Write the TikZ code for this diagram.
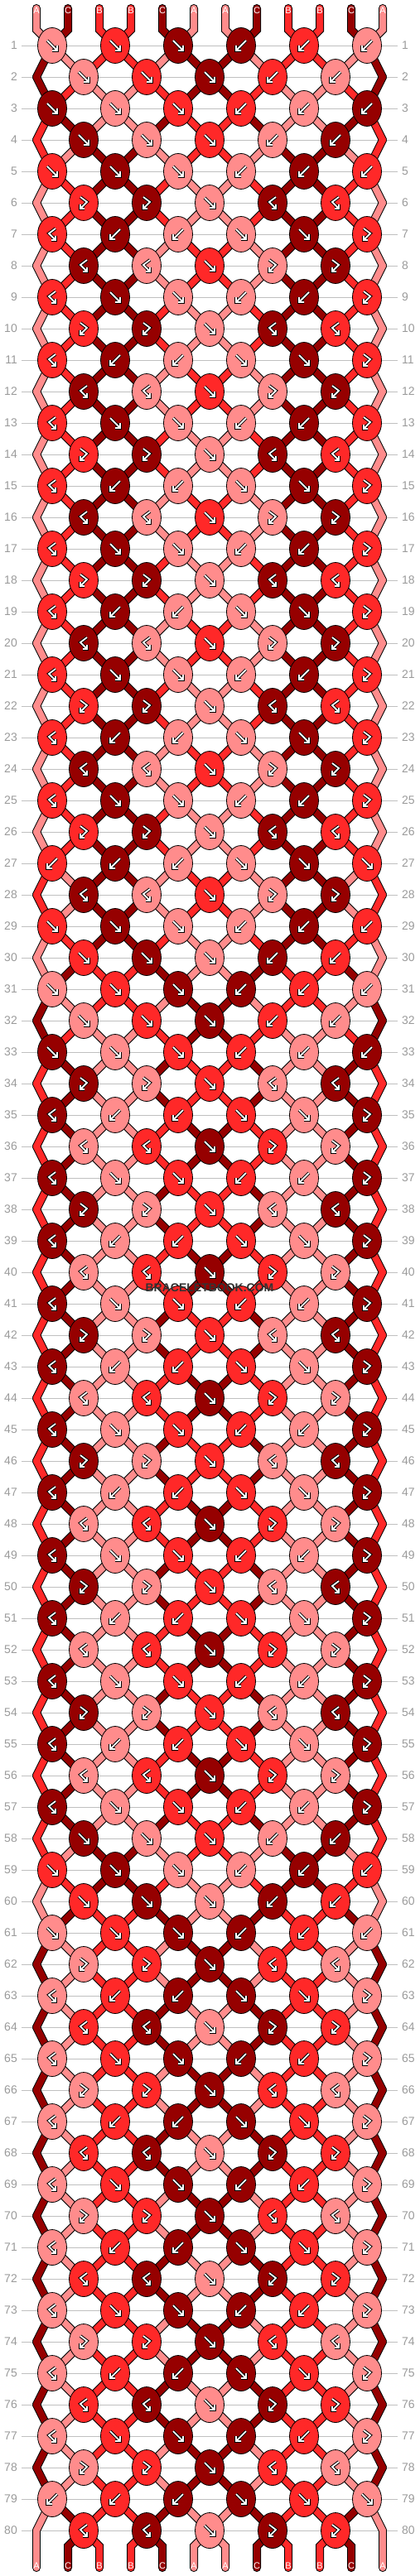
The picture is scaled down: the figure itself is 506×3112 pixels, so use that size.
\documentclass[tikz,border=0pt]{standalone}
\usepackage{fontspec}
\setsansfont{Liberation Sans}
\usetikzlibrary{shapes.geometric}

\definecolor{colA}{HTML}{FF8C8C}
\definecolor{colB}{HTML}{FF2828}
\definecolor{colC}{HTML}{960000}
\definecolor{rulegray}{HTML}{C0C0C0}
\definecolor{numgray}{HTML}{9A9A9A}
\definecolor{markgray}{HTML}{333333}

\tikzstyle{bknot} = [ellipse, draw=black, line width=0.8pt, minimum width=35pt, minimum height=43pt, inner sep=0pt]
\tikzstyle{rim} = [black, line width=10pt, line cap=round]
\tikzstyle{yarn} = [line width=8pt, line cap=round]
\tikzstyle{glyph} = [white, line width=1.8pt, preaction={draw=black, line width=3.8pt}]
\tikzstyle{rowline} = [rulegray, line width=0.9pt]
\tikzstyle{rownum} = [numgray, font=\sffamily\fontsize{14}{14}\selectfont, inner sep=0pt]
\tikzstyle{threadtag} = [white, font=\sffamily\fontsize{11}{11}\selectfont, inner sep=0pt]

\tikzset{
  pics/fwd/.style={code={\draw[glyph] (-6,-6) -- (6,6) (6,0) -- (6,6) -- (0,6);}},
  pics/bwd/.style={code={\draw[glyph] (6,-6) -- (-6,6) (-6,0) -- (-6,6) -- (0,6);}},
  pics/fwdbwd/.style={code={\draw[glyph] (-4,-7) -- (4,-1) -- (-4,7) (-4,2) -- (-4,7) -- (1,7);}},
  pics/bwdfwd/.style={code={\draw[glyph] (4,-7) -- (-4,-1) -- (4,7) (4,2) -- (4,7) -- (-1,7);}},
}

% slot of thread #2 in row #1 (knot or edge point)
\newcommand\findspot[2]{%
  \ifodd#1\relax
    \ifodd#2\relax \pgfmathtruncatemacro\spot{#2-1}\else \edef\spot{#2}\fi
  \else
    \ifodd#2\relax \edef\spot{#2}\else \pgfmathtruncatemacro\spot{#2-1}\fi
    \ifnum#2=0 \edef\spot{0}\fi
    \ifnum#2=11 \edef\spot{11}\fi
  \fi}

% one thread piece from row #1-1 (or the top) into row #1, slot #2
\newcommand\threadpiece[3]{% row, thread, style
  \findspot{#1}{#2}\let\lowspot\spot
  \ifnum#1=1
    \draw[#3] (top-#2) -- (bend-#2) -- (k-1-\lowspot);
  \else\ifnum#1=81
    \findspot{80}{#2}
    \draw[#3] (k-80-\spot) -- (bend-b-#2) -- (end-#2);
  \else
    \pgfmathtruncatemacro\rr{#1-1}
    \findspot{\rr}{#2}
    \draw[#3] (k-\rr-\spot) -- (k-#1-\lowspot);
  \fi\fi}

\begin{document}
\begin{tikzpicture}[x=1pt, y=-1pt]
    \useasboundingbox (0,0) rectangle (506,3112);

    \foreach \c [count=\i from 0] in {A,C,B,B,C,A,A,C,B,B,C,A} {
        \expandafter\xdef\csname strand\i\endcsname{\c}
        \coordinate (top-\i) at ({44+38*\i},10);
        \coordinate (bend-\i) at ({44+38*\i},36);
        \coordinate (bend-b-\i) at ({44+38*\i},3076);
        \coordinate (end-\i) at ({44+38*\i},3102);
    }

    \foreach \r in {1,...,80} {
        \pgfmathsetmacro\y{55+38*(\r-1)}
        \draw[rowline] (26,\y) -- (480,\y);
        \node[rownum, anchor=east] (num-l-\r) at (21,\y) {\r};
        \node[rownum, anchor=west] (num-r-\r) at (485,\y) {\r};
    }

    % 1 = f, 2 = b, 3 = fb, 4 = bf
    \foreach \codes [count=\r] in {%
        {1,1,1,2,2,2},{1,1,1,2,2},{1,1,1,2,2,2},{1,1,1,2,2},{1,1,1,2,2,2},%
        {3,3,1,4,4},{4,2,2,1,1,3},{4,4,1,3,3},{4,1,1,2,2,3},%
        {3,3,1,4,4},{4,2,2,1,1,3},{4,4,1,3,3},{4,1,1,2,2,3},%
        {3,3,1,4,4},{4,2,2,1,1,3},{4,4,1,3,3},{4,1,1,2,2,3},%
        {3,3,1,4,4},{4,2,2,1,1,3},{4,4,1,3,3},{4,1,1,2,2,3},%
        {3,3,1,4,4},{4,2,2,1,1,3},{4,4,1,3,3},{4,1,1,2,2,3},%
        {3,3,1,4,4},{2,2,2,1,1,1},{4,4,1,3,3},%
        {1,1,1,2,2,2},{1,1,1,2,2},{1,1,1,2,2,2},{1,1,1,2,2},{1,1,1,2,2,2},%
        {3,3,1,4,4},{4,2,2,1,1,3},{4,4,1,3,3},{4,1,1,2,2,3},%
        {3,3,1,4,4},{4,2,2,1,1,3},{4,4,1,3,3},{4,1,1,2,2,3},%
        {3,3,1,4,4},{4,2,2,1,1,3},{4,4,1,3,3},{4,1,1,2,2,3},%
        {3,3,1,4,4},{4,2,2,1,1,3},{4,4,1,3,3},{4,1,1,2,2,3},%
        {3,3,1,4,4},{4,2,2,1,1,3},{4,4,1,3,3},{4,1,1,2,2,3},%
        {3,3,1,4,4},{4,2,2,1,1,3},{4,4,1,3,3},{4,1,1,2,2,3},%
        {1,1,1,2,2},{1,1,1,2,2,2},{1,1,1,2,2},{1,1,1,2,2,2},%
        {3,3,1,4,4},{4,2,2,1,1,3},{4,4,1,3,3},{4,1,1,2,2,3},%
        {3,3,1,4,4},{4,2,2,1,1,3},{4,4,1,3,3},{4,1,1,2,2,3},%
        {3,3,1,4,4},{4,2,2,1,1,3},{4,4,1,3,3},{4,1,1,2,2,3},%
        {3,3,1,4,4},{4,2,2,1,1,3},{4,4,1,3,3},{4,1,1,2,2,3},%
        {3,3,1,4,4},{2,2,2,1,1,1},{4,4,1,3,3}%
    } {
        \pgfmathsetmacro\y{55+38*(\r-1)}
        % colours of the threads coming into the row
        \foreach \i in {0,...,11} {
            \expandafter\xdef\csname tc-\r-\i\endcsname{\csname strand\i\endcsname}
        }
        \xdef\knotcount{0}
        \ifodd\r\relax\else
            \coordinate (k-\r-0) at (44,\y);
            \coordinate (k-\r-11) at (462,\y);
        \fi
        \foreach \c [count=\k] in \codes {
            \ifodd\r\relax \pgfmathtruncatemacro\p{2*\k-2}\else \pgfmathtruncatemacro\p{2*\k-1}\fi
            \pgfmathtruncatemacro\q{\p+1}
            \edef\lc{\csname strand\p\endcsname}
            \edef\rc{\csname strand\q\endcsname}
            \ifodd\c\relax
                \expandafter\xdef\csname kc-\r-\p\endcsname{\lc}
            \else
                \expandafter\xdef\csname kc-\r-\p\endcsname{\rc}
            \fi
            \expandafter\xdef\csname kt-\r-\p\endcsname{\c}
            \coordinate (k-\r-\p) at ({63+38*\p},\y);
            \ifnum\c<3\relax
                \expandafter\xdef\csname strand\p\endcsname{\rc}
                \expandafter\xdef\csname strand\q\endcsname{\lc}
            \fi
        }
    }
    \foreach \i in {0,...,11} {
        \expandafter\xdef\csname tc-81-\i\endcsname{\csname strand\i\endcsname}
    }

    % thread outlines, then thread colours
    \foreach \r in {1,...,81} {
        \foreach \i in {0,...,11} {
            \threadpiece{\r}{\i}{rim}
        }
    }
    \foreach \r in {1,...,81} {
        \foreach \i in {0,...,11} {
            \edef\tc{\csname tc-\r-\i\endcsname}
            \threadpiece{\r}{\i}{yarn, col\tc}
        }
    }

    % knots
    \foreach \r in {1,...,80} {
        \pgfmathsetmacro\y{55+38*(\r-1)}
        \ifodd\r\relax \def\plist{0,2,4,6,8,10}\else \def\plist{1,3,5,7,9}\fi
        \foreach \p in \plist {
            \edef\kc{\csname kc-\r-\p\endcsname}
            \edef\kt{\csname kt-\r-\p\endcsname}
            \node[bknot, fill=col\kc] (k-\r-\p) at ({63+38*\p},\y) {};
            \ifcase\kt\relax
            \or \pic at (k-\r-\p) {fwd};
            \or \pic at (k-\r-\p) {bwd};
            \or \pic at (k-\r-\p) {fwdbwd};
            \or \pic at (k-\r-\p) {bwdfwd};
            \fi
        }
    }

    \foreach \i in {0,...,11} {
        \node[threadtag] (tag-top-\i) at ({44+38*\i},13) {\csname tc-1-\i\endcsname};
        \node[threadtag] (tag-bot-\i) at ({44+38*\i},3100) {\csname tc-81-\i\endcsname};
    }

    \node[text=markgray, font=\sffamily\bfseries\fontsize{14}{14}\selectfont, inner sep=0pt] (mark) at (253,1556) {BRACELETBOOK.COM};

\end{tikzpicture}
\end{document}
